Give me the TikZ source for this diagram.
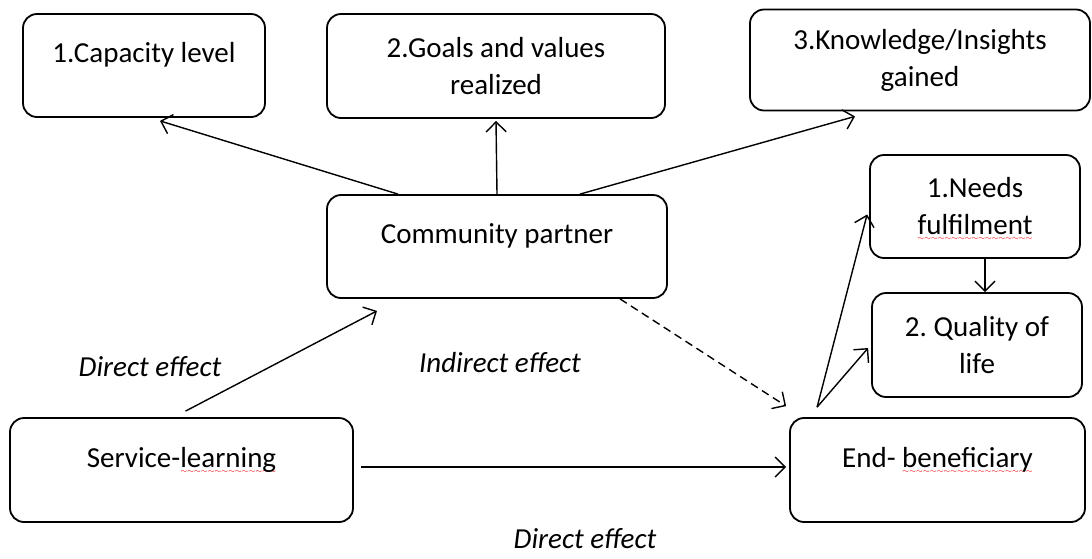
\documentclass[tikz,border=0pt]{standalone}
\usepackage{fontspec}
\setmainfont{Carlito}
\usepackage{tikz}
\usetikzlibrary{arrows.meta}

% red wavy underline, as the spell checker marks a word
\newcommand{\redwave}[1]{\leavevmode\setbox0=\hbox{#1}%
	\rlap{\raisebox{-6pt}[0pt][0pt]{\hbox to\wd0{\color{red}\fontsize{8}{8}\selectfont
		\xleaders\hbox{$\sim$}\hfil}}}\box0}

\begin{document}
\begin{tikzpicture}[x=1pt,y=-1pt,
				box/.style={draw=black,line width=1.8pt,rounded corners=14pt,
					align=center,inner sep=0pt,font=\fontsize{29}{37}\selectfont},
				oneline/.style={text height=21pt,text depth=27pt},
				eff/.style={draw=black,line width=1.4pt,
					-{Straight Barb[length=10pt,width=20pt,line width=1.4pt]}},
				ind/.style={eff,dash pattern=on 8pt off 5pt},
				lbl/.style={font=\fontsize{29}{34}\selectfont\itshape,inner sep=0pt}]

				\useasboundingbox (0,0) rectangle (1092,558);

				%%%%%%%%%%%%%%%%  top row  %%%%%%%%%%%%%%%%
				\node[box,oneline,minimum width=242pt,minimum height=103pt]
					(cap) at (144,65.5) {1.Capacity level};
				\node[box,minimum width=338pt,minimum height=104pt]
					(goals) at (496,66) {2.Goals and values\\realized};
				\node[box,minimum width=340pt,minimum height=101pt]
					(know) at (920,60) {3.Knowledge/Insights\\gained};

				%%%%%%%%%%%%%%%%  middle  %%%%%%%%%%%%%%%%
				\node[box,oneline,minimum width=340pt,minimum height=103pt]
					(comm) at (497,246.5) {Community partner};
				\node[box,minimum width=210pt,minimum height=103pt]
					(needs) at (975,206.5) {1.Needs\\\redwave{fulfilment}};
				\node[box,minimum width=210pt,minimum height=104pt]
					(qual) at (977,345) {2.\ Quality of\\life};

				%%%%%%%%%%%%%%%%  bottom row  %%%%%%%%%%%%%%%%
				\node[box,oneline,minimum width=343pt,minimum height=104pt]
					(serv) at (181.5,470) {Service-\redwave{learning}};
				\node[box,oneline,minimum width=295pt,minimum height=104pt]
					(endb) at (937.5,470) {End-\ \redwave{beneficiary}};

				% what the community partner gets
				\draw[eff] ([xshift=-99pt]comm.north) -- ([xshift=16pt,yshift=-3pt]cap.south);
				\draw[eff] (comm.north) -- ([yshift=-2pt]goals.south);
				\draw[eff] ([xshift=83pt]comm.north) -- ([xshift=-65pt,yshift=-5pt]know.south);

				% direct and indirect effects
				\draw[eff] ([xshift=4pt,yshift=6pt]serv.north)
					-- ([xshift=-120pt,yshift=-12pt]comm.south);
				\draw[eff] ([xshift=7pt,yshift=3pt]serv.east) -- ([xshift=-3pt,yshift=3pt]endb.west);
				\draw[ind] ([xshift=123pt]comm.south) -- ([xshift=-3pt,yshift=11pt]endb.north west);

				% what the end-beneficiary gets
				\coordinate (fork) at ([xshift=28pt,yshift=10pt]endb.north west);
				\draw[eff] (fork) -- ([xshift=-2pt,yshift=-8pt]needs.west);
				\draw[eff] (fork) -- ([xshift=-3pt,yshift=-3pt]qual.west);
				\draw[eff] ([xshift=10pt]needs.south) -- ([xshift=8pt]qual.north);

				\node[lbl] (dir1) at (150,367) {Direct effect};
				\node[lbl] (indir) at (500,363) {Indirect effect};
				\node[lbl] (dir2) at (585,539) {Direct effect};
			\end{tikzpicture}
\end{document}
